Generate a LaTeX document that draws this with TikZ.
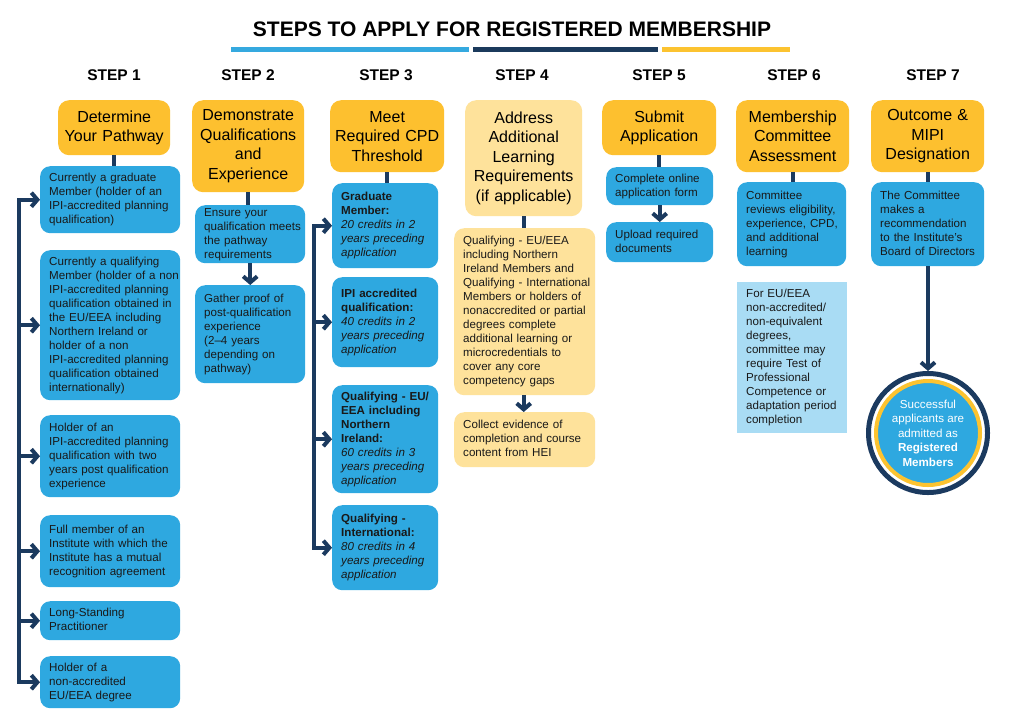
\documentclass[tikz,border=0pt]{standalone}
\usepackage{fontspec}
\setmainfont{Liberation Sans}
\usetikzlibrary{arrows.meta}
\definecolor{hdr}{HTML}{FDC02F}
\definecolor{pale}{HTML}{FEE29B}
\definecolor{bl}{HTML}{2EA8E0}
\definecolor{navy}{HTML}{1B3A5F}
\definecolor{lbl}{HTML}{A9DCF4}
\definecolor{barbl}{HTML}{35A9DF}
\definecolor{barny}{HTML}{1B3A5C}
\definecolor{barye}{HTML}{FCC330}
\newcommand{\boxlines}[1]{\begin{tabular}{@{}l@{}}#1\end{tabular}}
\hfuzz=50pt
\begin{document}
\begin{tikzpicture}[x=1pt,y=-1pt,
  hbox/.style={fill=hdr, rounded corners=11pt, align=center, inner xsep=3pt, inner ysep=0pt, anchor=north west, font=\fontsize{16}{19.5}\selectfont, text=black},
  bbox/.style={fill=bl, rounded corners=10pt, align=left, inner xsep=9pt, inner ysep=0pt, anchor=north west, font=\fontsize{11.6}{14}\selectfont, text=black!90},
  pbox/.style={bbox, fill=pale},
  sbox/.style={bbox, fill=lbl, rounded corners=0pt},
  steplabel/.style={font=\bfseries\fontsize{15.5}{18}\selectfont},
  conn/.style={draw=navy, line width=4pt},
  arr/.style={conn, -{Straight Barb[length=6pt, width=14pt]}},
]
\useasboundingbox[fill=white] (0,0) rectangle (1024,724);
% title
\node[font=\bfseries\fontsize{21}{24}\selectfont] (title) at (512,29) {STEPS TO APPLY FOR REGISTERED MEMBERSHIP};
\fill[barbl] (231,47) rectangle (469,52);
\fill[barny] (473,47) rectangle (658,52);
\fill[barye] (662,47) rectangle (790,52);
% step labels
\node[steplabel] (s1) at (114,75) {STEP 1};
\node[steplabel] (s2) at (248,75) {STEP 2};
\node[steplabel] (s3) at (386,75) {STEP 3};
\node[steplabel] (s4) at (522,75) {STEP 4};
\node[steplabel] (s5) at (659,75) {STEP 5};
\node[steplabel] (s6) at (794,75) {STEP 6};
\node[steplabel] (s7) at (933,75) {STEP 7};
% headers
\node[hbox, text width=106pt, minimum height=55pt] (h1) at (58,100) {Determine\\Your Pathway};
\node[hbox, text width=106pt, minimum height=92pt] (h2) at (192,100) {Demonstrate\\Qualifications\\and\\Experience};
\node[hbox, text width=108pt, minimum height=72pt] (h3) at (330,100) {Meet\\Required CPD\\Threshold};
\node[hbox, fill=pale, text width=111pt, minimum height=116pt] (h4) at (465,100) {Address\\Additional\\Learning\\Requirements\\(if applicable)};
\node[hbox, text width=108pt, minimum height=55pt] (h5) at (602,100) {Submit\\Application};
\node[hbox, text width=107pt, minimum height=72pt] (h6) at (736,100) {Membership\\Committee\\Assessment};
\node[hbox, text width=107pt, minimum height=72pt] (h7) at (871,100) {Outcome \&\\MIPI\\Designation};
% step 1
\node[bbox, text width=122pt, minimum height=67pt] (p1) at (40,166) {\boxlines{Currently a graduate\\Member (holder of an\\IPI-accredited planning\\qualification)}};
\node[bbox, text width=122pt, minimum height=150pt] (p2) at (40,250) {\boxlines{Currently a qualifying\\Member (holder of a non\\IPI-accredited planning\\qualification obtained in\\the EU/EEA including\\Northern Ireland or\\holder of a non\\IPI-accredited planning\\qualification obtained\\internationally)}};
\node[bbox, text width=122pt, minimum height=82pt] (p3) at (40,415) {\boxlines{Holder of an\\IPI-accredited planning\\qualification with two\\years post qualification\\experience}};
\node[bbox, text width=122pt, minimum height=72pt] (p4) at (40,515) {\boxlines{Full member of an\\Institute with which the\\Institute has a mutual\\recognition agreement}};
\node[bbox, text width=122pt, minimum height=39pt] (p5) at (40,601) {\boxlines{Long-Standing\\Practitioner}};
\node[bbox, text width=122pt, minimum height=52pt] (p6) at (40,656) {\boxlines{Holder of a\\non-accredited\\EU/EEA degree}};
% step 2
\node[bbox, text width=92pt, minimum height=58pt] (q1) at (195,205) {\boxlines{Ensure your\\qualification meets\\the pathway\\requirements}};
\node[bbox, text width=92pt, minimum height=98pt] (q2) at (195,285) {\boxlines{Gather proof of\\post-qualification\\experience\\(2–4 years\\depending on\\pathway)}};
% step 3
\node[bbox, text width=88pt, minimum height=85pt] (r1) at (332,183) {\boxlines{\textbf{Graduate}\\\textbf{Member:}\\\textit{20 credits in 2}\\\textit{years preceding}\\\textit{application}}};
\node[bbox, text width=88pt, minimum height=90pt] (r2) at (332,277) {\boxlines{\textbf{IPI accredited}\\\textbf{qualification:}\\\textit{40 credits in 2}\\\textit{years preceding}\\\textit{application}}};
\node[bbox, text width=88pt, minimum height=108pt] (r3) at (332,385) {\boxlines{\textbf{Qualifying - EU/}\\\textbf{EEA including}\\\textbf{Northern}\\\textbf{Ireland:}\\\textit{60 credits in 3}\\\textit{years preceding}\\\textit{application}}};
\node[bbox, text width=88pt, minimum height=85pt] (r4) at (332,505) {\boxlines{\textbf{Qualifying -}\\\textbf{International:}\\\textit{80 credits in 4}\\\textit{years preceding}\\\textit{application}}};
% step 4
\node[pbox, text width=123pt, minimum height=167pt] (t1) at (454,228) {\boxlines{Qualifying - EU/EEA\\including Northern\\Ireland Members and\\Qualifying - International\\Members or holders of\\nonaccredited or partial\\degrees complete\\additional learning or\\microcredentials to\\cover any core\\competency gaps}};
\node[pbox, text width=123pt, minimum height=55pt] (t2) at (454,412) {\boxlines{Collect evidence of\\completion and course\\content from HEI}};
% step 5
\node[bbox, text width=89pt, minimum height=38pt] (u1) at (606,167) {\boxlines{Complete online\\application form}};
\node[bbox, text width=89pt, minimum height=40pt] (u2) at (606,222) {\boxlines{Upload required\\documents}};
% step 6
\node[bbox, text width=91pt, minimum height=84pt] (v1) at (737,182) {\boxlines{Committee\\reviews eligibility,\\experience, CPD,\\and additional\\learning}};
\node[sbox, text width=92pt, minimum height=151pt] (v2) at (737,282) {\boxlines{For EU/EEA\\non-accredited/\\non-equivalent\\degrees,\\committee may\\require Test of\\Professional\\Competence or\\adaptation period\\completion}};
% step 7
\node[bbox, text width=95pt, minimum height=84pt] (w1) at (871,182) {\boxlines{The Committee\\makes a\\recommendation\\to the Institute’s\\Board of Directors}};
\node[circle, fill=white, draw=navy, line width=5pt, minimum size=119pt, inner sep=0pt] (ring) at (928,433) {};
\node[circle, fill=bl, draw=barye, line width=4pt, minimum size=104pt, inner sep=0pt, align=center, text=white, font=\fontsize{11.6}{14.5}\selectfont] (done) at (ring.center) {Successful\\applicants are\\admitted as\\\textbf{Registered}\\\textbf{Members}};
% connectors header -> first box
\draw[conn] (h1.south) -- (h1.south |- p1.north);
\draw[conn] (h2.south) -- (h2.south |- q1.north);
\draw[conn] (h3.south) -- (h3.south |- r1.north);
\draw[conn] (h4.south) -- (h4.south |- t1.north);
\draw[conn] (h5.south) -- (h5.south |- u1.north);
\draw[conn] (h6.south) -- (h6.south |- v1.north);
\draw[conn] (h7.south) -- (h7.south |- w1.north);
% down arrows
\draw[arr] (q1.south) -- (q2.north);
\draw[arr] (t1.south -| h4.south) -- (t2.north -| h4.south);
\draw[arr] (u1.south) -- (u2.north);
\draw[arr] (w1.south -| ring.north) -- (ring.north);
% bracket step 1
\coordinate (bus1) at (19,0);
\draw[conn, line cap=rect] (p1.west -| bus1) -- (p6.west -| bus1);
\foreach \n in {p1,p2,p3,p4,p5,p6} \draw[arr] (\n.west -| bus1) -- (\n.west);
% bracket step 3
\coordinate (bus3) at (314,0);
\draw[conn, line cap=rect] (r1.west -| bus3) -- (r4.west -| bus3);
\foreach \n in {r1,r2,r3,r4} \draw[arr] (\n.west -| bus3) -- (\n.west);
\end{tikzpicture}
\end{document}
